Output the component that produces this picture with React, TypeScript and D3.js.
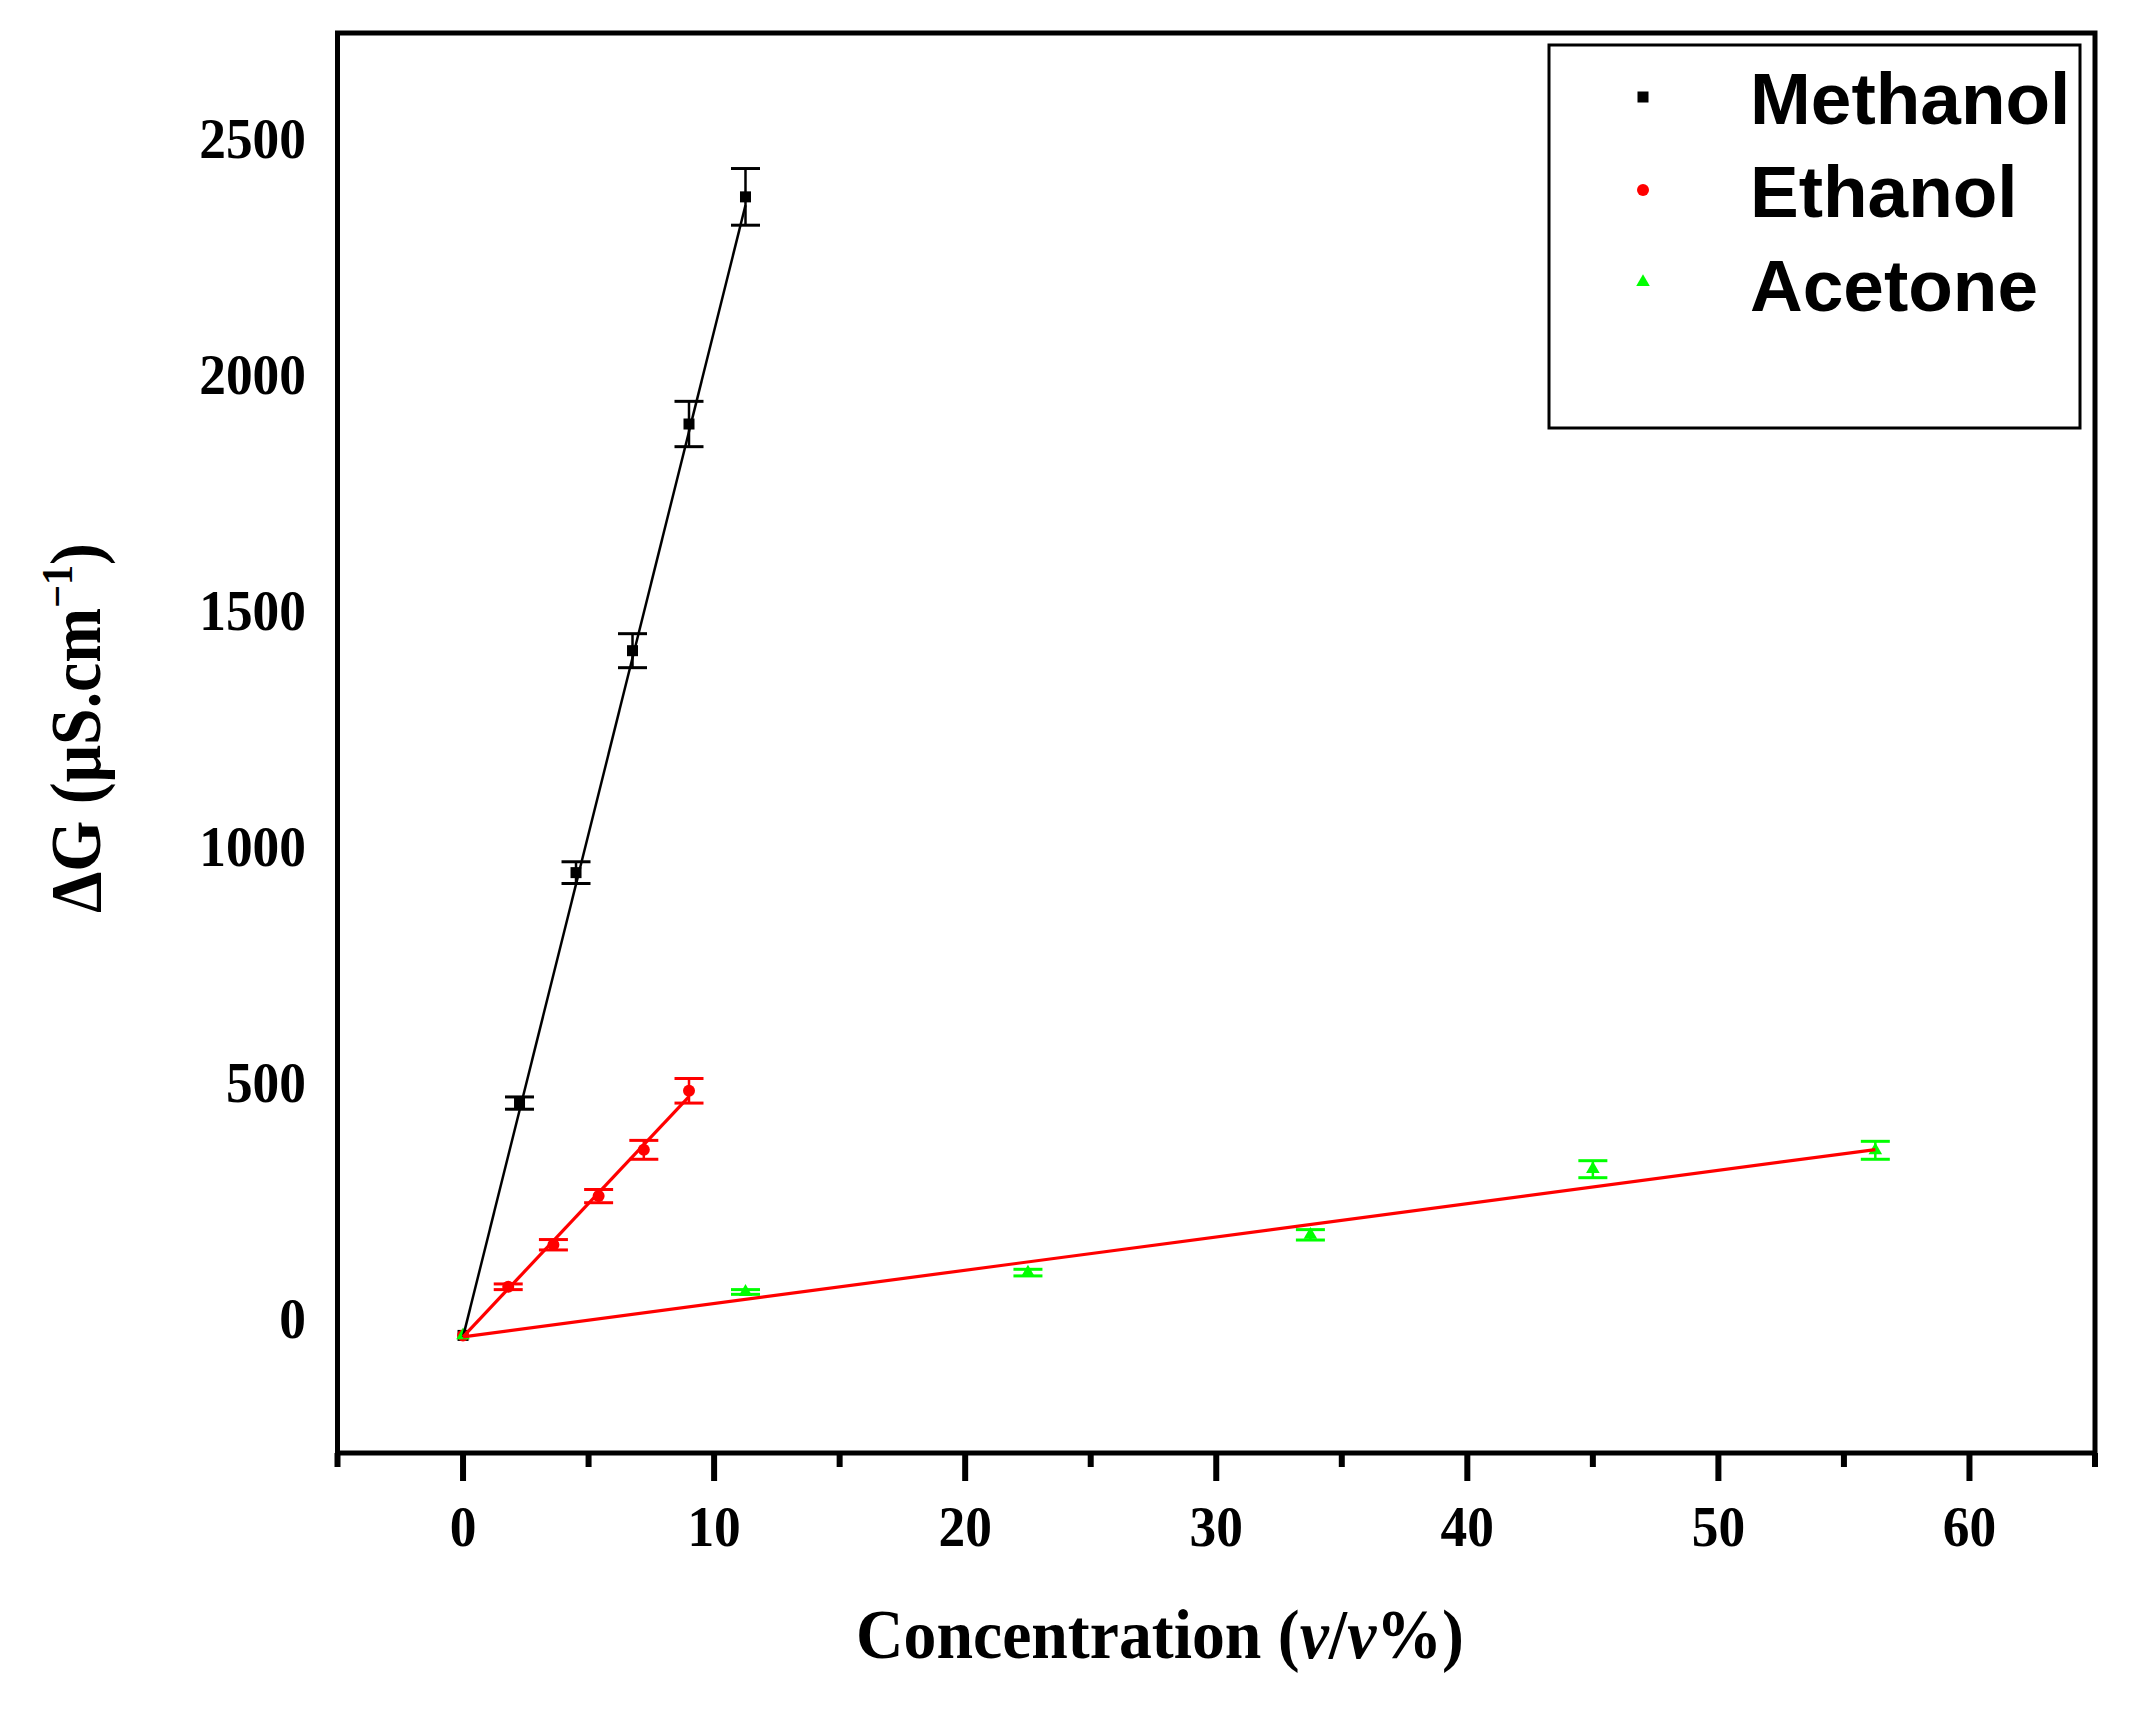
import { useEffect, useRef } from "react";
import * as d3 from "d3";

// concentrations (v/v %) and ΔG (µS/cm)
const methanolX = [0, 2.25, 4.5, 6.75, 9.0, 11.25];
const methanolY = [-35, 457, 945, 1415, 1895, 2376];
const methanolErr = [4, 13, 23, 36, 48, 60];

const ethanolX = [0, 1.8, 3.6, 5.4, 7.2, 9.0];
const ethanolY = [-35, 68, 157, 260, 358, 483];
const ethanolErr = [4, 6, 11, 14, 20, 26];

const acetoneX = [0, 11.25, 22.5, 33.75, 45, 56.25];
const acetoneY = [-35, 57, 98, 178, 317, 357];
const acetoneErr = [4, 5, 7, 11, 18, 19];

// linear fits (intercept, slope, last x)
const fitIntercepts = [-38, -38, -38];
const fitSlopes = [213, 56.5, 7.05];
const fitEnds = [11.25, 9.0, 56.25];

const seriesNames = ["Methanol", "Ethanol", "Acetone"];
const seriesColors = ["#000000", "#ff0000", "#00ff00"];
const fitColors = ["#000000", "#ff0000", "#ff0000"];
const seriesShapes = ["square", "circle", "triangle"];

const xTicks = [0, 10, 20, 30, 40, 50, 60];
const xMinorTicks = [-5, 5, 15, 25, 35, 45, 55, 65];
const yTicks = [0, 500, 1000, 1500, 2000, 2500];

const W = 2132;
const H = 1709;
const SERIF = "'Liberation Serif', 'Times New Roman', serif";
const SANS = "'Liberation Sans', Arial, sans-serif";

export default function App() {
  const svgRef = useRef<SVGSVGElement>(null);

  useEffect(() => {
    if (!svgRef.current) return;
    const svg = d3.select(svgRef.current);
    svg.selectAll("*").remove();

    const x = d3.scaleLinear().domain([-5, 65]).range([337.5, 2095]);
    const y = d3.scaleLinear().domain([-284, 2723]).range([1453, 33]);

    svg.append("rect").attr("width", W).attr("height", H).attr("fill", "white");

    const series = [
      { xs: methanolX, ys: methanolY, es: methanolErr },
      { xs: ethanolX, ys: ethanolY, es: ethanolErr },
      { xs: acetoneX, ys: acetoneY, es: acetoneErr },
    ];

    const drawMarker = (
      g: d3.Selection<SVGGElement, unknown, null, undefined>,
      shape: string,
      cx: number,
      cy: number,
      color: string
    ) => {
      if (shape === "square") {
        g.append("rect")
          .attr("x", cx - 5.5)
          .attr("y", cy - 5.5)
          .attr("width", 11)
          .attr("height", 11)
          .attr("fill", color);
      } else if (shape === "circle") {
        g.append("circle").attr("cx", cx).attr("cy", cy).attr("r", 6).attr("fill", color);
      } else {
        const sym = d3.symbol(d3.symbolTriangle, 80)();
        g.append("path")
          .attr("d", sym)
          .attr("transform", `translate(${cx},${cy})`)
          .attr("fill", color);
      }
    };

    const plot = svg.append("g");

    // error bars + markers
    series.forEach((s, i) => {
      const g = plot.append("g");
      const color = seriesColors[i];
      s.xs.forEach((xv, j) => {
        const px = x(xv);
        const top = y(s.ys[j] + s.es[j]);
        const bot = y(s.ys[j] - s.es[j]);
        if (j > 0) {
          g.append("line")
            .attr("x1", px).attr("x2", px)
            .attr("y1", top).attr("y2", bot)
            .attr("stroke", color).attr("stroke-width", 2.5);
          [top, bot].forEach((cy) =>
            g.append("line")
              .attr("x1", px - 14.5).attr("x2", px + 14.5)
              .attr("y1", cy).attr("y2", cy)
              .attr("stroke", color).attr("stroke-width", 3)
          );
        }
        drawMarker(g, seriesShapes[i], px, y(s.ys[j]), color);
      });
    });

    // fit lines
    fitSlopes.forEach((slope, i) => {
      const line = d3
        .line<number>()
        .x((d) => x(d))
        .y((d) => y(fitIntercepts[i] + slope * d));
      plot.append("path")
        .attr("d", line([0, fitEnds[i]]))
        .attr("fill", "none")
        .attr("stroke", fitColors[i])
        .attr("stroke-width", i === 0 ? 2.5 : 3.2);
    });

    // frame
    svg.append("rect")
      .attr("x", 337.5)
      .attr("y", 33)
      .attr("width", 2095 - 337.5)
      .attr("height", 1453 - 33)
      .attr("fill", "none")
      .attr("stroke", "#000")
      .attr("stroke-width", 5);

    // x ticks
    const axisG = svg.append("g");
    xTicks.forEach((t) => {
      axisG.append("line")
        .attr("x1", x(t)).attr("x2", x(t))
        .attr("y1", 1453).attr("y2", 1481)
        .attr("stroke", "#000").attr("stroke-width", 6);
      const label = String(t);
      axisG.append("text")
        .attr("x", x(t))
        .attr("y", 1546)
        .attr("text-anchor", "middle")
        .attr("font-family", SERIF)
        .attr("font-weight", "bold")
        .attr("font-size", 57)
        .attr("textLength", label.length * 26.7)
        .attr("lengthAdjust", "spacingAndGlyphs")
        .text(label);
    });
    xMinorTicks.forEach((t) => {
      axisG.append("line")
        .attr("x1", x(t)).attr("x2", x(t))
        .attr("y1", 1453).attr("y2", 1467)
        .attr("stroke", "#000").attr("stroke-width", 6);
    });

    // y labels (no tick marks in the original)
    yTicks.forEach((t) => {
      const label = String(t);
      axisG.append("text")
        .attr("x", 306)
        .attr("y", y(t) + 19.5)
        .attr("text-anchor", "end")
        .attr("font-family", SERIF)
        .attr("font-weight", "bold")
        .attr("font-size", 57)
        .attr("textLength", label.length * 26.7)
        .attr("lengthAdjust", "spacingAndGlyphs")
        .text(label);
    });

    // axis titles: drawn at natural width, then squeezed to the reference width
    const squeeze = (
      el: d3.Selection<SVGTextElement, unknown, null, undefined>,
      target: number,
      base: string
    ) => {
      const w = (el.node() as SVGTextElement).getComputedTextLength() || target;
      el.attr("transform", `${base} scale(${target / w},1)`);
    };

    const xt = svg.append("text")
      .attr("text-anchor", "middle")
      .attr("font-family", SERIF)
      .attr("font-weight", "bold")
      .attr("font-size", 70);
    xt.append("tspan").text("Concentration (");
    xt.append("tspan").attr("font-style", "italic").text("v");
    xt.append("tspan").text("/");
    xt.append("tspan").attr("font-style", "italic").text("v");
    xt.append("tspan").text("%)");
    squeeze(xt, 608, "translate(1160,1658)");

    const yt = svg.append("text")
      .attr("text-anchor", "middle")
      .attr("font-family", SERIF)
      .attr("font-weight", "bold")
      .attr("font-size", 72);
    yt.append("tspan").text("ΔG (μS.cm");
    yt.append("tspan").attr("font-size", 44).attr("dy", -28).text("−1");
    yt.append("tspan").attr("dy", 28).text(")");
    squeeze(yt, 370, "translate(100,728) rotate(-90)");

    // legend
    const leg = svg.append("g");
    leg.append("rect")
      .attr("x", 1549)
      .attr("y", 45)
      .attr("width", 2080 - 1549)
      .attr("height", 428 - 45)
      .attr("fill", "white")
      .attr("stroke", "#000")
      .attr("stroke-width", 3);
    const legY = [97, 190, 282];
    const legBase = [124, 217, 311];
    seriesNames.forEach((name, i) => {
      drawMarker(leg, seriesShapes[i], 1643, legY[i], seriesColors[i]);
      leg.append("text")
        .attr("x", 1750)
        .attr("y", legBase[i])
        .attr("font-family", SANS)
        .attr("font-weight", "bold")
        .attr("font-size", 73)
        .text(name);
    });

    return () => {
      svg.selectAll("*").remove();
    };
  }, []);

  return (
    <div style={{ position: "absolute", left: 0, top: 0 }}>
      <svg ref={svgRef} width={W} height={H} style={{ display: "block" }} />
    </div>
  );
}
